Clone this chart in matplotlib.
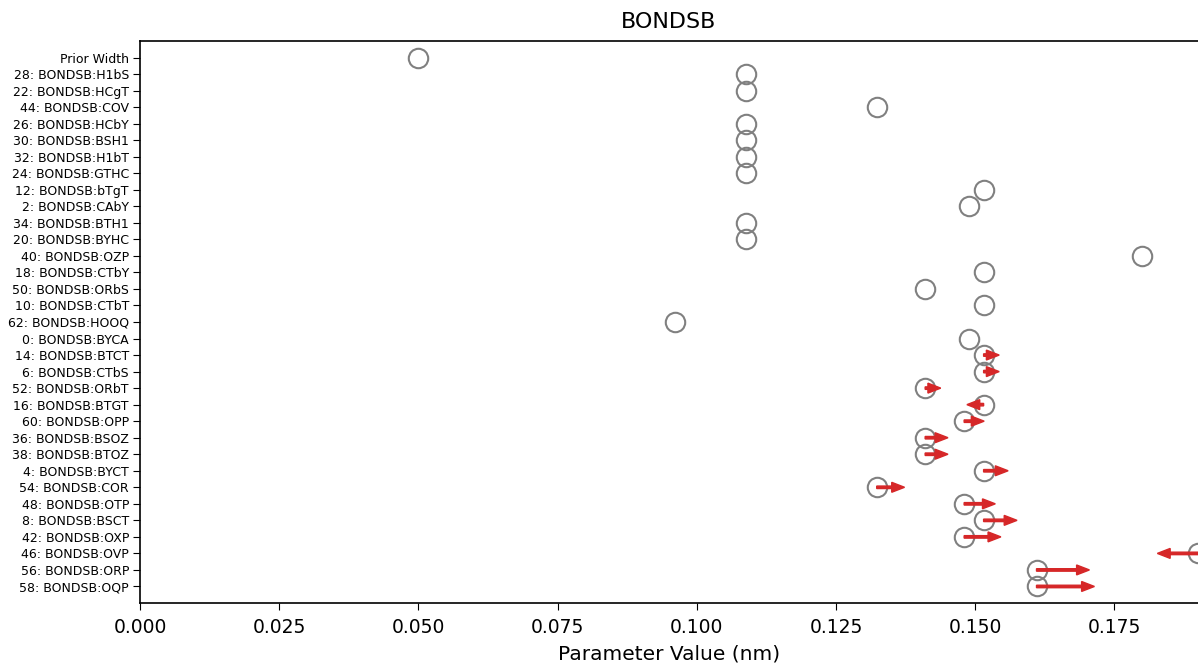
"""Parameter values for the BONDSB bond types, with shift arrows."""

import matplotlib
matplotlib.use("Agg")
import matplotlib.pyplot as plt

# Row labels, top to bottom
LABELS = [
    "Prior Width",
    "28: BONDSB:H1bS", "22: BONDSB:HCgT", "44: BONDSB:COV", "26: BONDSB:HCbY",
    "30: BONDSB:BSH1", "32: BONDSB:H1bT", "24: BONDSB:GTHC", "12: BONDSB:bTgT",
    "2: BONDSB:CAbY", "34: BONDSB:BTH1", "20: BONDSB:BYHC", "40: BONDSB:OZP",
    "18: BONDSB:CTbY", "50: BONDSB:ORbS", "10: BONDSB:CTbT", "62: BONDSB:HOOQ",
    "0: BONDSB:BYCA", "14: BONDSB:BTCT", "6: BONDSB:CTbS", "52: BONDSB:ORbT",
    "16: BONDSB:BTGT", "60: BONDSB:OPP", "36: BONDSB:BSOZ", "38: BONDSB:BTOZ",
    "4: BONDSB:BYCT", "54: BONDSB:COR", "48: BONDSB:OTP", "8: BONDSB:BSCT",
    "42: BONDSB:OXP", "46: BONDSB:OVP", "56: BONDSB:ORP", "58: BONDSB:OQP",
]

# Current parameter values (nm)
VALUES = [
    0.050,
    0.1088, 0.1088, 0.1323, 0.1088,
    0.1088, 0.1088, 0.1088, 0.1515,
    0.1488, 0.1088, 0.1088, 0.1800,
    0.1515, 0.1410, 0.1515, 0.0960,
    0.1488, 0.1515, 0.1515, 0.1410,
    0.1515, 0.1480, 0.1410, 0.1410,
    0.1515, 0.1323, 0.1480, 0.1515,
    0.1480, 0.1900, 0.1610, 0.1610,
]

# Proposed change for each parameter (0 = no arrow)
CHANGES = [
    0.0,
    0.0, 0.0, 0.0, 0.0,
    0.0, 0.0, 0.0, 0.0,
    0.0, 0.0, 0.0, 0.0,
    0.0, 0.0, 0.0, 0.0,
    0.0, 0.0028, 0.0028, 0.0028,
    -0.0030, 0.0036, 0.0041, 0.0041,
    0.0044, 0.0050, 0.0056, 0.0060,
    0.0066, -0.0073, 0.0095, 0.0104,
]


def main():
    n = len(LABELS)
    ypos = [n - 1 - i for i in range(n)]

    fig = plt.figure(figsize=(11.98, 6.64), dpi=100)
    ax = fig.add_axes([140 / 1198, 61 / 664, 1058 / 1198, 562 / 664])

    ax.plot(VALUES, ypos, "o", markersize=14, markerfacecolor="none",
            markeredgecolor="#808080", markeredgewidth=1.5, zorder=2,
            clip_on=False)

    for x, y, dx in zip(VALUES, ypos, CHANGES):
        if dx == 0:
            continue
        ax.arrow(x, y, dx, 0, width=0.15, head_width=0.6,
                 head_length=0.0023, length_includes_head=True,
                 color="#d62728", zorder=3)

    ax.set_xlim(0, 0.19)
    ax.set_ylim(-1, n)
    ax.set_yticks(ypos)
    ax.set_yticklabels(LABELS, fontsize=9)
    ax.set_xticks([0.0, 0.025, 0.05, 0.075, 0.1, 0.125, 0.15, 0.175])
    ax.set_xticklabels(["0.000", "0.025", "0.050", "0.075", "0.100",
                        "0.125", "0.150", "0.175"], fontsize=13.5)
    ax.tick_params(axis="x", length=5, pad=6)
    ax.tick_params(axis="y", length=5, pad=3)
    ax.set_xlabel("Parameter Value (nm)", fontsize=14.5, labelpad=5)
    ax.set_title("BONDSB", fontsize=16, pad=9)
    ax.spines["right"].set_visible(False)
    for spine in ax.spines.values():
        spine.set_linewidth(1.2)

    fig.savefig("out.png", dpi=100)


if __name__ == "__main__":
    main()
